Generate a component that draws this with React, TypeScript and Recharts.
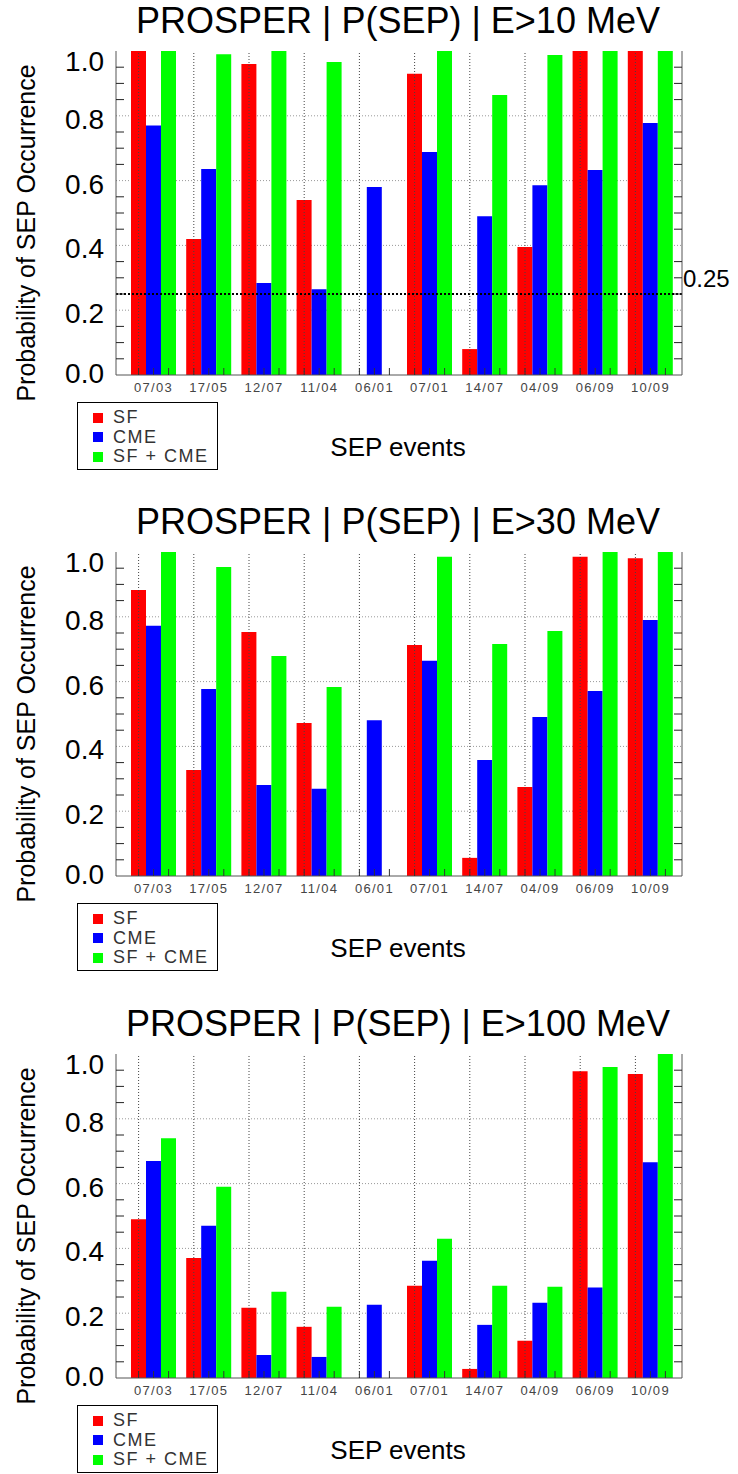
import React from 'react'
import { BarChart, Bar, XAxis, YAxis, CartesianGrid, ReferenceLine, Legend } from 'recharts'

const EVENTS = ['07/03', '17/05', '12/07', '11/04', '06/01', '07/01', '14/07', '04/09', '06/09', '10/09']
const SERIES = ['SF', 'CME', 'SF + CME']

// E > 10 MeV
const SF_10 = [1.0, 0.42, 0.96, 0.54, 0, 0.93, 0.08, 0.395, 1.0, 1.0]
const CME_10 = [0.77, 0.636, 0.284, 0.265, 0.58, 0.688, 0.49, 0.586, 0.633, 0.778]
const BOTH_10 = [1.0, 0.99, 1.0, 0.966, 0, 1.0, 0.864, 0.988, 1.0, 1.0]

// E > 30 MeV
const SF_30 = [0.883, 0.327, 0.753, 0.472, 0, 0.713, 0.056, 0.275, 0.985, 0.981]
const CME_30 = [0.772, 0.577, 0.281, 0.269, 0.481, 0.664, 0.358, 0.491, 0.571, 0.79]
const BOTH_30 = [1.0, 0.954, 0.679, 0.583, 0, 0.985, 0.716, 0.756, 1.0, 1.0]

// E > 100 MeV
const SF_100 = [0.49, 0.37, 0.217, 0.158, 0, 0.285, 0.028, 0.115, 0.947, 0.938]
const CME_100 = [0.67, 0.47, 0.071, 0.065, 0.226, 0.362, 0.164, 0.232, 0.279, 0.666]
const BOTH_100 = [0.74, 0.59, 0.266, 0.22, 0, 0.43, 0.285, 0.282, 0.96, 1.0]

const Y_TICKS = [0, 0.05, 0.1, 0.15, 0.2, 0.25, 0.3, 0.35, 0.4, 0.45, 0.5, 0.55, 0.6, 0.65, 0.7, 0.75, 0.8, 0.85, 0.9, 0.95, 1.0]
const Y_GRID = [0.2, 0.4, 0.6, 0.8]
const THRESHOLD = 0.25

const FONT = '"Liberation Sans", Arial, Helvetica, sans-serif'
const BAR = 15
const PLOT_H = 324

const build = (sf: number[], cme: number[], both: number[]) =>
  EVENTS.map((event, i) => ({ event, sf: sf[i], cme: cme[i], both: both[i] }))

const isMajor = (v: number) => Math.abs(v * 5 - Math.round(v * 5)) < 1e-6

function YTick(props: any) {
  const { x, y, payload, side } = props
  const v = payload.value as number
  const major = isMajor(v)
  const dir = side === 'left' ? 1 : -1
  const shift = v === 1 ? 10 : v === 0 ? -2 : 3
  return (
    <g>
      {!major && <line x1={x} x2={x + dir * 8} y1={y} y2={y} stroke="#222" />}
      {side === 'left' && major && (
        <text x={x - 12} y={y + shift} dy="0.36em" textAnchor="end" fontSize={28} fill="#000">
          {v.toFixed(1)}
        </text>
      )}
    </g>
  )
}

function XTick(props: any) {
  const { x, y, payload } = props
  return (
    <g>
      <line x1={x - BAR} x2={x - BAR} y1={y} y2={y - PLOT_H} stroke="#444" strokeDasharray="1 2" />
      {[-BAR, 0, BAR].map((dx) => (
        <line key={dx} x1={x + dx} x2={x + dx} y1={y} y2={y - 7} stroke="#333" />
      ))}
      <text x={x} y={y + 17} textAnchor="middle" fontSize={13} letterSpacing={1.3} fill="#444">
        {payload.value}
      </text>
    </g>
  )
}

function LegendBox({ payload }: any) {
  const items = [...(payload || [])].sort((a: any, b: any) => SERIES.indexOf(a.value) - SERIES.indexOf(b.value))
  return (
    <div style={{ border: '1px solid #000', width: 141, height: 68, boxSizing: 'border-box', paddingTop: 5, paddingLeft: 15, background: '#fff' }}>
      {items.map((p: any) => (
        <div key={p.value} style={{ display: 'flex', alignItems: 'center', height: 19.5 }}>
          <span style={{ width: 10, height: 10, background: p.color, marginRight: 10, display: 'inline-block' }} />
          <span style={{ fontSize: 18, letterSpacing: 1.5, color: '#333', lineHeight: '19px' }}>{p.value}</span>
        </div>
      ))}
    </div>
  )
}

function Panel({ title, sf, cme, both, top, threshold }: { title: string; sf: number[]; cme: number[]; both: number[]; top: number; threshold?: boolean }) {
  const data = build(sf, cme, both)
  return (
    <div style={{ position: 'absolute', left: 0, top, width: 738, height: 471 }}>
      <BarChart width={738} height={471} data={data} margin={{ top: 51, right: 0, bottom: 66, left: 0 }} barGap={0}>
        <CartesianGrid yAxisId="l" vertical={false} horizontalValues={Y_GRID} stroke="#999" strokeDasharray="1 2" />
        <XAxis dataKey="event" height={30} padding={{ left: 10, right: 4 }} interval={0} tickSize={0} tickMargin={0}
          tick={(p: any) => <XTick {...p} />} axisLine={{ stroke: '#555' }} tickLine={false} />
        <XAxis xAxisId="top" dataKey="event" orientation="top" height={0} padding={{ left: 10, right: 4 }}
          tick={false} tickLine={false} axisLine={{ stroke: '#555' }} />
        <YAxis yAxisId="l" width={116} domain={[0, 1]} allowDataOverflow ticks={Y_TICKS} interval={0} tickSize={0} tickMargin={0}
          tick={(p: any) => <YTick {...p} side="left" />} tickLine={false} axisLine={{ stroke: '#555' }} />
        <YAxis yAxisId="r" orientation="right" width={56} domain={[0, 1]} allowDataOverflow ticks={Y_TICKS} interval={0} tickSize={0} tickMargin={0}
          tick={(p: any) => <YTick {...p} side="right" />} tickLine={false} axisLine={{ stroke: '#555' }} />
        <Bar yAxisId="l" dataKey="sf" name={SERIES[0]} fill="#ff0000" barSize={BAR} isAnimationActive={false} />
        <Bar yAxisId="l" dataKey="cme" name={SERIES[1]} fill="#0000ff" barSize={BAR} isAnimationActive={false} />
        <Bar yAxisId="l" dataKey="both" name={SERIES[2]} fill="#00ff00" barSize={BAR} isAnimationActive={false} />
        {threshold && (
          <ReferenceLine yAxisId="l" y={THRESHOLD} stroke="#000" strokeWidth={2} strokeDasharray="2 2"
            label={(lp: any) => {
              const vb = lp.viewBox || {}
              return (
                <text x={(vb.x || 0) + (vb.width || 0) + 1} y={(vb.y || 0) - 7} fontSize={24} fill="#000" fontFamily={FONT}>
                  {THRESHOLD.toFixed(2)}
                </text>
              )
            }} />
        )}
        <Legend layout="vertical" align="center" verticalAlign="middle" itemSorter={(item: any) => SERIES.indexOf(item.value)}
          content={(lp: any) => <LegendBox {...lp} />}
          wrapperStyle={{ position: 'absolute', left: 77, top: 402, width: 141, height: 68 }} />
      </BarChart>
      <svg width={738} height={471} style={{ position: 'absolute', left: 0, top: 0, pointerEvents: 'none' }} fontFamily={FONT}>
        <text x={398} y={33} textAnchor="middle" fontSize={36} fill="#000">{title}</text>
        <text transform="translate(35,233) rotate(-90)" textAnchor="middle" fontSize={25} fill="#000">Probability of SEP Occurrence</text>
        <text x={398} y={456} textAnchor="middle" fontSize={26} fill="#000">SEP events</text>
      </svg>
    </div>
  )
}

export default function App() {
  return (
    <div style={{ position: 'absolute', left: 0, top: 0, width: 738, height: 1474, background: '#fff', fontFamily: FONT, overflow: 'hidden' }}>
      <Panel title="PROSPER | P(SEP) | E>10 MeV" sf={SF_10} cme={CME_10} both={BOTH_10} top={0} threshold />
      <Panel title="PROSPER | P(SEP) | E>30 MeV" sf={SF_30} cme={CME_30} both={BOTH_30} top={501} />
      <Panel title="PROSPER | P(SEP) | E>100 MeV" sf={SF_100} cme={CME_100} both={BOTH_100} top={1003} />
    </div>
  )
}
